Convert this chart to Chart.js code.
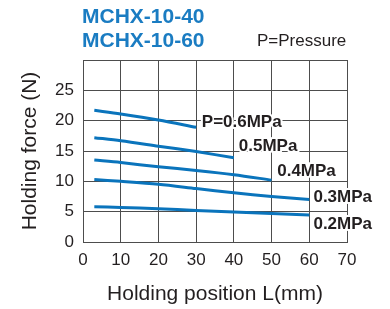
<!DOCTYPE html>
<html>
<head>
<meta charset="utf-8">
<script src="https://cdn.jsdelivr.net/npm/chart.js@4"></script>
<style>
  html, body { margin: 0; padding: 0; background: #fff; }
  #wrap { width: 390px; height: 309px; }
</style>
</head>
<body>
<div id="wrap"><canvas id="chart" width="390" height="309"></canvas></div>
<script>
// data
const pressures = ["0.2MPa", "0.3MPa", "0.4MPa", "0.5MPa", "P=0.6MPa"];
const pos02 = [3, 10, 20, 30, 40, 50, 60];
const force02 = [5.8, 5.7, 5.5, 5.2, 4.95, 4.7, 4.45];
const pos03 = [3, 10, 20, 30, 40, 50, 60];
const force03 = [10.3, 10.0, 9.5, 8.8, 8.1, 7.5, 7.0];
const pos04 = [3, 10, 20, 30, 40, 50];
const force04 = [13.5, 13.1, 12.4, 11.8, 11.1, 10.2];
const pos05 = [3, 10, 20, 30, 40];
const force05 = [17.2, 16.7, 15.8, 14.9, 13.9];
const pos06 = [3, 10, 20, 30];
const force06 = [21.7, 21.1, 20.1, 18.9];
const xTicks = [0, 10, 20, 30, 40, 50, 60, 70];
const yTicks = [0, 5, 10, 15, 20, 25];

const FONT = "'Liberation Sans', Arial, Helvetica, sans-serif";
const TEXT = "#231f20";
const GRID = "#4d4d4d";
const BLUE = "#0a74bc";

function pts(xs, ys) {
  return xs.map((x, i) => ({ x: x, y: ys[i] }));
}

const series = [
  pts(pos02, force02),
  pts(pos03, force03),
  pts(pos04, force04),
  pts(pos05, force05),
  pts(pos06, force06),
];

// where each pressure label sits, in data units (left edge, middle)
const labelAt = [
  [61.1, 2.9],
  [61.1, 7.3],
  [51.5, 11.7],
  [41.3, 15.7],
  [31.5, 19.8],
];

const labelPlugin = {
  id: "labels",
  afterDatasetsDraw(chart) {
    const c = chart.ctx;
    const xs = chart.scales.x, ys = chart.scales.y;
    c.save();
    c.font = "bold 17px " + FONT;
    c.textBaseline = "middle";
    c.textAlign = "left";
    c.lineJoin = "round";
    pressures.forEach((t, i) => {
      const px = xs.getPixelForValue(labelAt[i][0]);
      const py = ys.getPixelForValue(labelAt[i][1]);
      c.strokeStyle = "#fff";
      c.lineWidth = 4;
      c.strokeText(t, px, py);
      c.fillStyle = TEXT;
      c.fillText(t, px, py);
    });
    c.restore();
  },
  afterDraw(chart) {
    const c = chart.ctx;
    c.save();
    c.textBaseline = "alphabetic";
    c.textAlign = "left";
    c.fillStyle = "#1a7cc2";
    c.font = "bold 21px " + FONT;
    c.fillText("MCHX-10-40", 82, 23);
    c.fillText("MCHX-10-60", 82, 47);
    c.fillStyle = TEXT;
    c.font = "17px " + FONT;
    c.fillText("P=Pressure", 257, 46);
    c.restore();
  },
};

const data = {
  datasets: series.map((s, i) => ({
    label: pressures[i],
    data: s,
    borderColor: BLUE,
    backgroundColor: BLUE,
    borderWidth: 3,
    pointRadius: 0,
    tension: 0.3,
    fill: false,
  })),
};

const config = {
  type: "line",
  data,
  options: {
    responsive: false,
    animation: false,
    layout: { padding: { top: 60, right: 43, left: 0, bottom: 0 } },
    plugins: {
      legend: { display: false },
      tooltip: { enabled: false },
    },
    scales: {
      x: {
        type: "linear",
        min: 0,
        max: 70,
        afterBuildTicks: (s) => { s.ticks = xTicks.map((v) => ({ value: v })); },
        afterFit: (s) => { s.height = 67; },
        ticks: {
          color: TEXT,
          font: { family: FONT, size: 17 },
          padding: 8,
          maxRotation: 0,
        },
        grid: { color: GRID, lineWidth: 1, drawTicks: false },
        border: { color: GRID, width: 1 },
        title: {
          display: true,
          text: "Holding position L(mm)",
          color: TEXT,
          font: { family: FONT, size: 21 },
          padding: { top: 0, bottom: 2 },
        },
      },
      y: {
        min: 0,
        max: 30,
        afterBuildTicks: (s) => { s.ticks = yTicks.concat([30]).map((v) => ({ value: v })); },
        afterFit: (s) => { s.width = 83; },
        ticks: {
          color: TEXT,
          font: { family: FONT, size: 17 },
          padding: 9,
          callback: (v) => (yTicks.includes(v) ? v : ""),
        },
        grid: { color: GRID, lineWidth: 1, drawTicks: false },
        border: { color: GRID, width: 1 },
        title: {
          display: true,
          text: "Holding force (N)",
          color: TEXT,
          font: { family: FONT, size: 21 },
          padding: { top: 18, bottom: 0 },
        },
      },
    },
  },
  plugins: [labelPlugin],
};

new Chart(document.getElementById("chart"), config);
</script>
</body>
</html>
